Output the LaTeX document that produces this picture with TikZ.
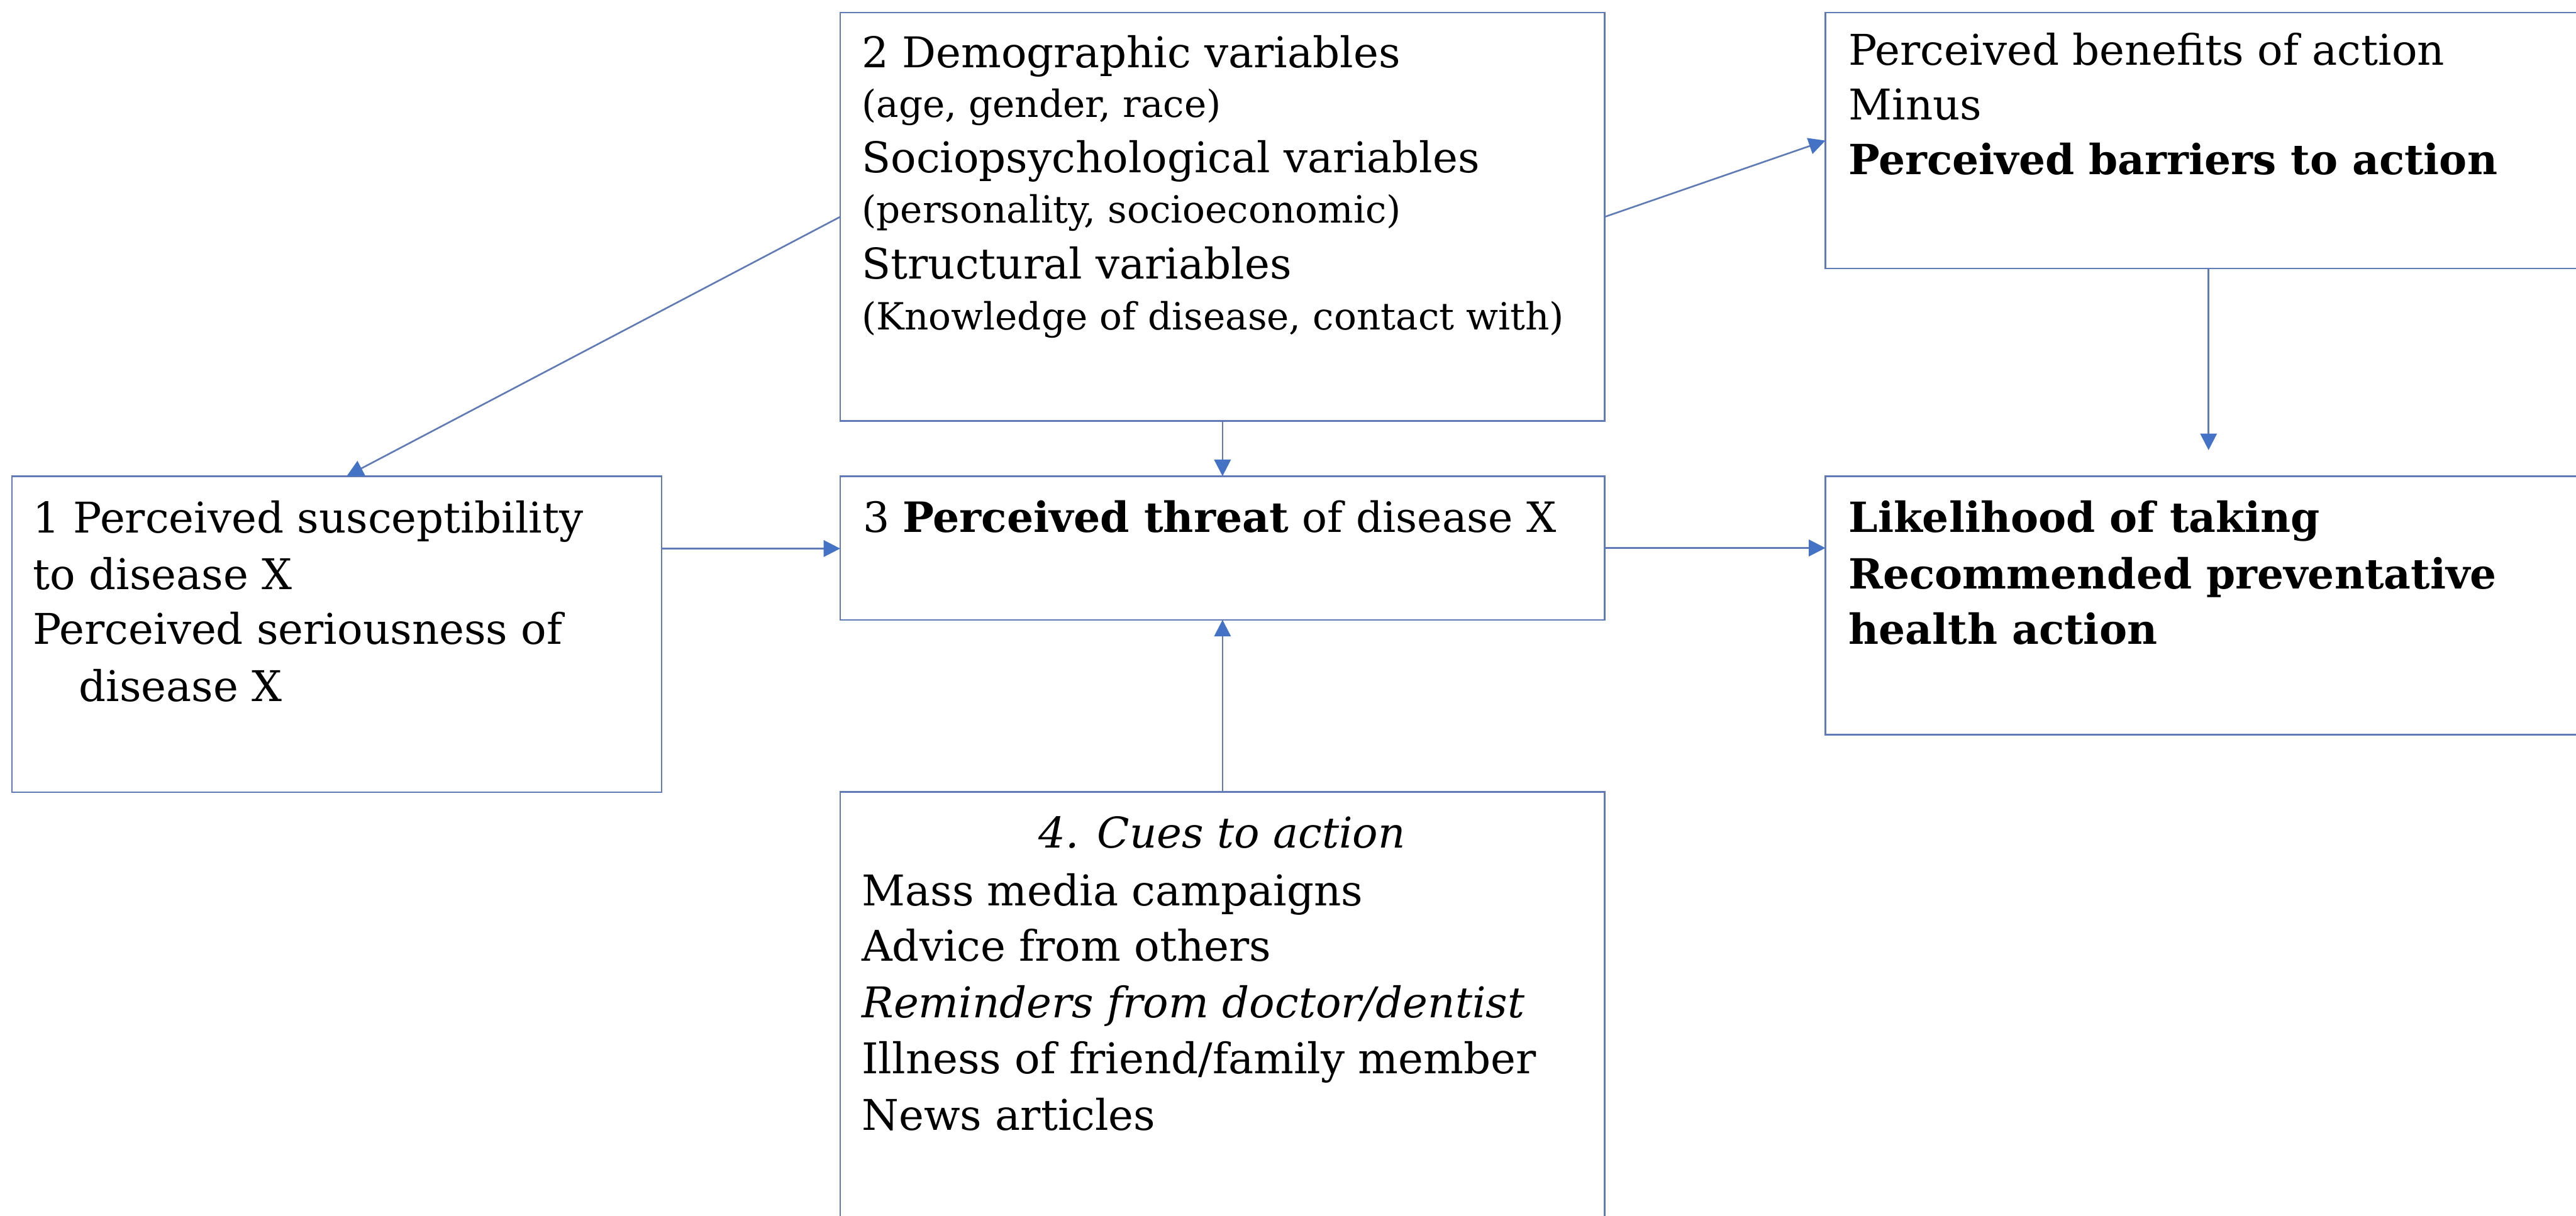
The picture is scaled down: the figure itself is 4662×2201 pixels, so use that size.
\documentclass[tikz,border=0pt]{standalone}
\usepackage{fontspec}
\setmainfont{DejaVu Serif}
\usetikzlibrary{arrows.meta,calc}
\definecolor{edgeblue}{RGB}{95,122,180}
\definecolor{tipblue}{RGB}{68,114,196}
\begin{document}
\begin{tikzpicture}[x=0.01cm,y=-0.01cm,
  box/.style={draw=edgeblue,line width=0.85pt,fill=white,inner sep=0pt,outer sep=0pt},
  big/.style={anchor=base west,inner sep=0pt,font=\fontsize{21.8}{26}\selectfont},
  heavy/.style={anchor=base west,inner sep=0pt,font=\fontsize{21.4}{26}\selectfont\bfseries},
  small/.style={anchor=base west,inner sep=0pt,font=\fontsize{19.3}{23}\selectfont},
  link/.style={draw=edgeblue,line width=0.85pt,-{Triangle[length=0.3cm,width=0.3cm,color=tipblue]}},
]
\useasboundingbox (0,0) rectangle (4662,2201);
\clip (0,0) rectangle (4662,2201);
\fill[white] (0,0) rectangle (4662,2201);

% boxes
\node[box,minimum width=13.83cm,minimum height=7.39cm] (demo) at (2212.5,392.5) {};
\node[box,minimum width=14.16cm,minimum height=4.63cm] (benefit) at (4012,254.5) {};
\node[box,minimum width=11.75cm,minimum height=5.72cm] (susc) at (609.5,1148) {};
\node[box,minimum width=13.83cm,minimum height=2.60cm] (threat) at (2212.5,992) {};
\node[box,minimum width=14.16cm,minimum height=4.68cm] (likely) at (4012,1096) {};
\node[box,minimum width=13.83cm,minimum height=8.26cm] (cues) at (2212.5,1847) {};

% helper positions for connectors
\coordinate (row1) at (0,993);
\coordinate (col1) at (3997,0);

% connectors
\draw[link] (demo.west) -- ([xshift=0.18cm]susc.north);
\draw[link] (demo.east) -- (benefit.west);
\draw[link] (demo.south) -- (threat.north);
\draw[link] (cues.north) -- (threat.south);
\draw[link] (susc.east |- row1) -- (threat.west |- row1);
\draw[link] (threat.east) -- (likely.west |- threat.east);
\draw[link,shorten >=0.47cm] (benefit.south -| col1) -- (likely.north -| col1);

% box 2 text
\node[big]   (d1) at (1559,122) {2 Demographic variables};
\node[small] (d2) at (1559,212) {(age, gender, race)};
\node[big]   (d3) at (1559,312) {Sociopsychological variables};
\node[small] (d4) at (1559,403) {(personality, socioeconomic)};
\node[big]   (d5) at (1559,505) {Structural variables};
\node[small] (d6) at (1559,597) {(Knowledge of disease, contact with)};

% benefits / barriers text
\node[big]   (b1) at (3345,118) {Perceived benefits of action};
\node[big]   (b2) at (3345,217) {Minus};
\node[heavy] (b3) at (3345,316) {Perceived barriers to action};

% box 1 text
\node[big] (s1) at (59,965) {1 Perceived susceptibility};
\node[big] (s2) at (59,1067) {to disease X};
\node[big] (s3) at (59,1166) {Perceived seriousness of};
\node[big] (s4) at (142,1270) {disease X};

% box 3 text
\node[big,font=\fontsize{21.5}{26}\selectfont] (t1) at (1561,963) {3 \textbf{Perceived threat} of disease X};

% likelihood text
\node[heavy] (l1) at (3345,963) {Likelihood of taking};
\node[heavy] (l2) at (3345,1066) {Recommended preventative};
\node[heavy] (l3) at (3345,1166) {health action};

% box 4 text
\node[big,anchor=base] (c0) at (2212,1535) {\itshape 4. Cues to action};
\node[big] (c1) at (1559,1640) {Mass media campaigns};
\node[big] (c2) at (1559,1740) {Advice from others};
\node[big] (c3) at (1559,1842) {\itshape Reminders from doctor/dentist};
\node[big] (c4) at (1559,1944) {Illness of friend/family member};
\node[big] (c5) at (1559,2046) {News articles};
\end{tikzpicture}
\end{document}
